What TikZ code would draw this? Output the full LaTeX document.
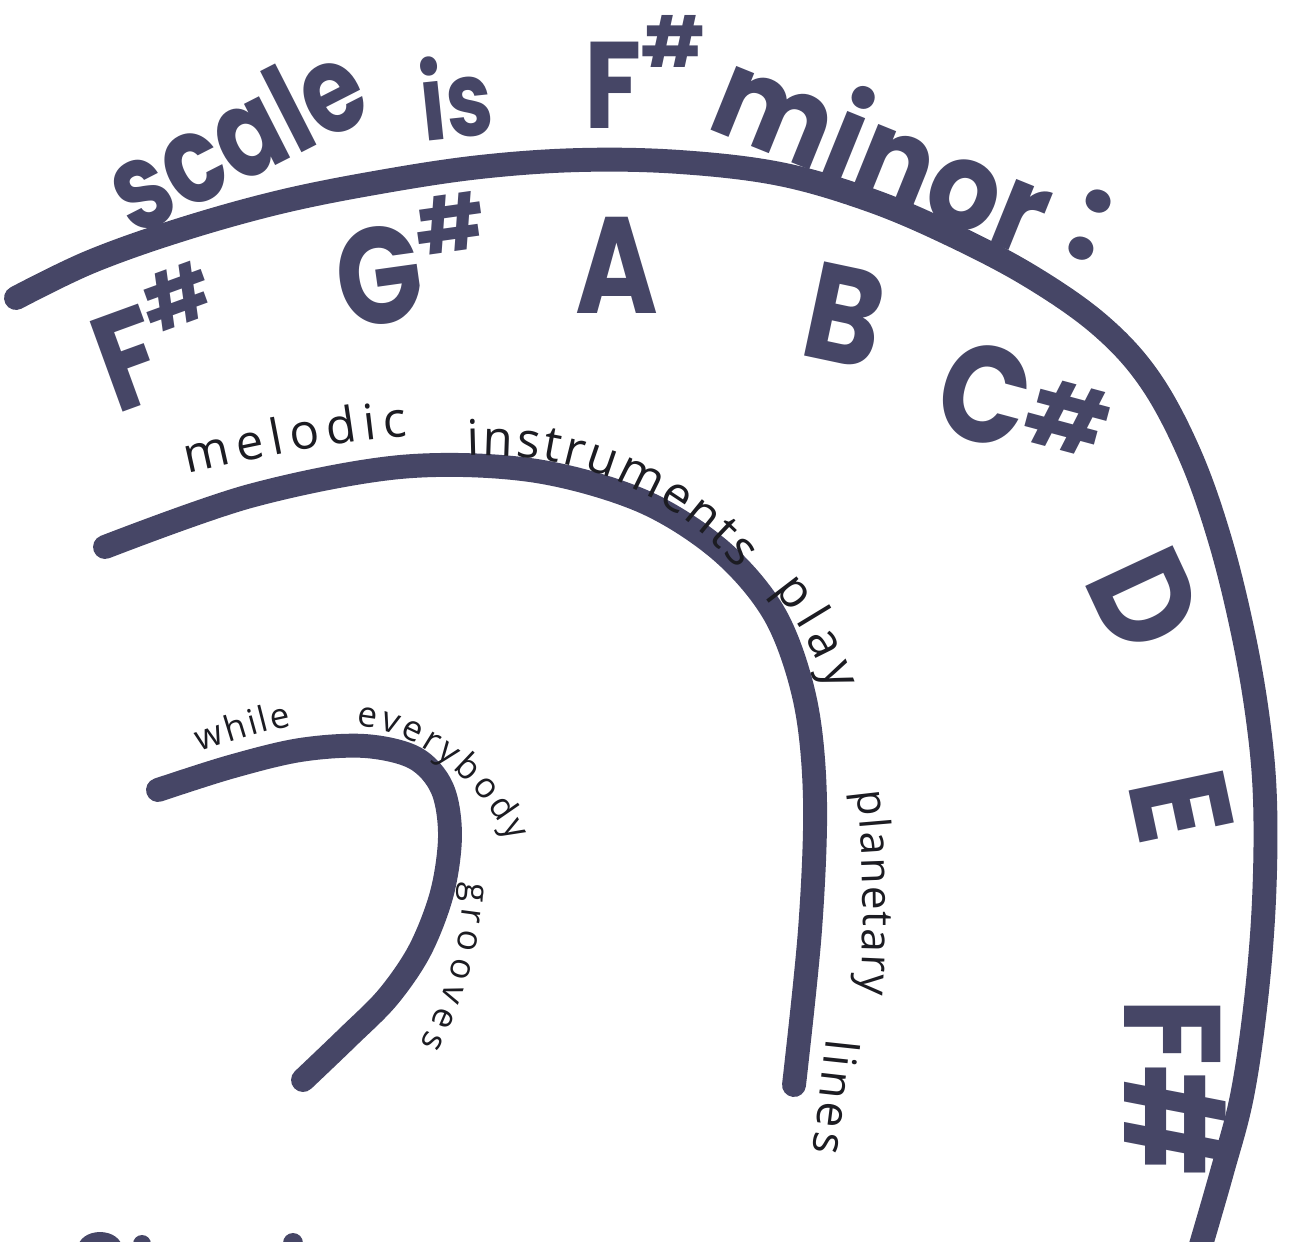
\documentclass[tikz,border=0pt]{standalone}
\usepackage{fontspec}
\usepackage{graphicx}
\newfontfamily\markerfont{Poppins}
\newfontfamily\handfont{Open Sans}
\usetikzlibrary{decorations.text}
\definecolor{ink}{RGB}{70,70,102}
\definecolor{pen}{RGB}{28,28,34}
\newcommand\shp[2]{\raisebox{#1}{\fontsize{#2}{#2}\selectfont\#}}
\newcommand\cnd[2]{\scalebox{#1}[1]{#2}}
\begin{document}
\begin{tikzpicture}[x=0.01cm,y=-0.01cm,
  inkline/.style={draw=ink, line width=6.8pt, line cap=round, line join=round},
  ttl/.style={font=\markerfont\bfseries\fontsize{35}{35}\selectfont, text=ink, inner sep=0pt},
  note/.style={font=\markerfont\bfseries\fontsize{39}{39}\selectfont, text=ink, inner sep=0pt},
  hand/.style={decorate, decoration={text along path, text align={fit to path}, text color=pen}},
]
\useasboundingbox (0,0) rectangle (1296,1241);
\fill[white] (0,0) rectangle (1296,1241);
\begin{scope}
\clip (0,0) rectangle (1296,1241);
% arcs
\draw[inkline] plot[smooth, tension=0.6] coordinates {(16,298) (90,262) (180,230) (280,202) (380,182) (480,167) (580,160) (680,162) (780,174) (870,200) (950,234) (1030,276) (1100,325) (1150,380) (1190,455) (1220,540) (1243,633) (1258,720) (1265,800) (1264,900) (1256,1000) (1242,1096) (1222,1172) (1198,1255)};
\draw[inkline] plot[smooth, tension=0.55] coordinates {(105,547) (250,496) (400,467) (530,470) (640,500) (720,550) (775,615) (805,700) (815,800) (810,930) (794,1085)};
\draw[inkline] plot[smooth, tension=0.55] coordinates {(158,790) (230,767) (300,750) (365,746) (415,758) (442,788) (450,835) (442,893) (420,950) (388,997) (348,1037) (303,1080)};
% title
\node[ttl, rotate=27] (tscale) at (235,136) {\cnd{0.8}{scale}};
\node[ttl, rotate=6, scale=0.85] (tis) at (456,96) {\cnd{0.8}{is}};
\node[ttl] (tf) at (645,72) {\cnd{0.85}{F}\shp{0.5em}{20}};
\node[ttl, rotate=-22] (tminor) at (885,148) {\cnd{0.92}{minor}};
\node[ttl, rotate=-20] (tcolon) at (1090,225) {:};
% notes
\node[note, rotate=20] (n1) at (158,336) {\cnd{0.82}{F}\shp{0.45em}{22}};
\node[note, rotate=8] (n2) at (412,260) {\cnd{0.82}{G}\shp{0.45em}{22}};
\node[note] (n3) at (617,265) {\cnd{0.82}{A}};
\node[note, rotate=-12] (n4) at (845,315) {\cnd{0.85}{B}};
\node[note, rotate=-15] (n5) at (1025,405) {\cnd{0.85}{C}\shp{0.1em}{26}};
\node[note, rotate=-65] (n6) at (1145,600) {\cnd{0.9}{D}};
\node[note, rotate=-78] (n7) at (1182,806) {\cnd{0.9}{E}};
\node[note, rotate=-90] (n8) at (1175,1088) {\cnd{0.9}{F\#}};
% handwritten words
\path[hand, decoration={text={|\handfont\fontsize{14}{14}\selectfont|melodic}}] (188,474) .. controls (250,460) and (330,442) .. (408,436);
\path[hand, decoration={text={|\handfont\fontsize{14}{14}\selectfont|instruments}}] (468,456) .. controls (560,452) and (660,480) .. (738,570);
\path[hand, decoration={text={|\handfont\fontsize{14}{14}\selectfont|play}}] (773,590) .. controls (795,615) and (815,650) .. (830,692);
\path[hand, decoration={text={|\handfont\fontsize{12}{12}\selectfont|planetary}}] (856,792) .. controls (864,850) and (865,930) .. (860,995);
\path[hand, decoration={text={|\handfont\fontsize{13}{13}\selectfont|lines}}] (826,1038) .. controls (822,1075) and (818,1115) .. (812,1152);
\path[hand, decoration={text={|\handfont\fontsize{10}{10}\selectfont|while}}] (200,752) .. controls (230,742) and (260,732) .. (292,726);
\path[hand, decoration={text={|\handfont\fontsize{10}{10}\selectfont|everybody}}] (356,726) .. controls (415,730) and (475,775) .. (510,842);
\path[hand, decoration={text={|\handfont\fontsize{10}{10}\selectfont|grooves}}] (465,882) .. controls (462,940) and (448,990) .. (420,1045);
% cut-off marks at the bottom edge
\fill[ink] (100,1248) ellipse (22 and 16);
\fill[ink] (142,1244) circle (9);
\fill[ink] (293,1243) circle (10);
\end{scope}
\end{tikzpicture}
\end{document}
